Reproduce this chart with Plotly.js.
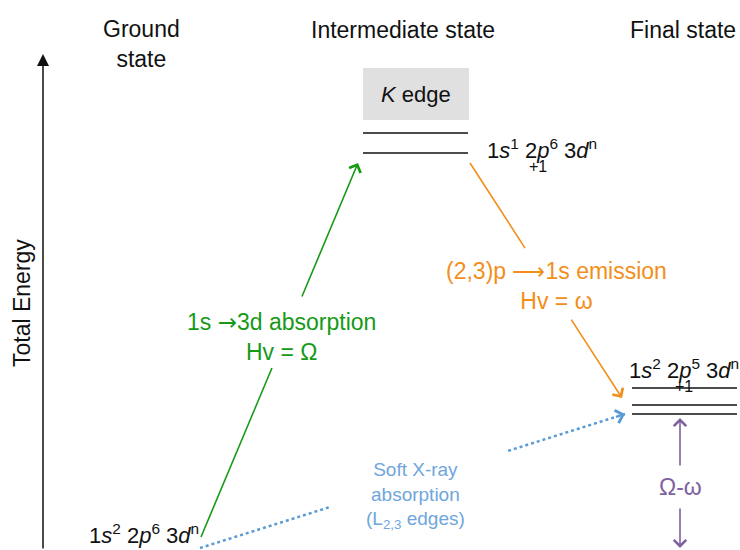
<!DOCTYPE html>
<html>
<head>
<meta charset="utf-8">
<script src="https://cdn.plot.ly/plotly-3.0.1.min.js"></script>
<style>html,body{margin:0;padding:0;background:#fff;}#chart{width:740px;height:550px;}</style>
</head>
<body>
<div id="chart"></div>
<script>
// ---- data: states, energy levels, transitions ----
const stateNames = ['Ground<br>state', 'Intermediate state', 'Final state'];
const stateColumnX = [141, 403, 683];
const stateTitleE = [506, 520, 520];

const intermediateLevelsE = [417, 397];
const finalLevelsE = [162, 145, 136];
const intermediateSpan = [363, 468];
const finalSpan = [632, 737];

const configLabels = [
  '1<i>s</i><sup>2</sup> 2<i>p</i><sup>6</sup> 3<i>d</i><sup>n</sup>',
  '1<i>s</i><sup>1</sup> 2<i>p</i><sup>6</sup> 3<i>d</i><sup>n</sup>',
  '1<i>s</i><sup>2</sup> 2<i>p</i><sup>5</sup> 3<i>d</i><sup>n</sup>'
];
const configX = [87, 485, 627];
const configE = [16, 401, 181];
const subLabelX = [538, 684];
const subLabelE = [384, 164];

const kEdgeSpanE = [430, 482];

const transitionNames = ['absorption', 'emission', 'soft'];
const transitionFrom = [[201, 13], [470, 387], [200, 2]];
const transitionTo = [[358, 387], [622, 152], [625, 136]];
const transitionGap = [[0.452, 0.639], [0.362, 0.66], [0.306, 0.725]];
const transitionColors = ['#169a16', '#f28e1a', '#5b9bd5'];
const transitionLabels = [
  '1s <span style="font-family:DejaVu Sans">→</span>3d absorption<br>Hv = Ω',
  '(2,3)p ⟶1s emission<br>Hv = ω',
  'Soft X-ray<br>absorption<br>(L<sub>2,3</sub> edges)'
];
const labelPos = [[281, 213], [556, 264], [415, 55]];

const lossX = 680;
const lossE = [132, 2];
const lossGapE = [83, 43];
const lossLabel = 'Ω-ω';
const lossLabelE = 63;

// ---- build ----
const FONT = 'Liberation Sans, Arial, sans-serif';
const traces = [];
const annotations = [];
const shapes = [];

// energy levels
intermediateLevelsE.forEach(e => shapes.push({type:'line', xref:'x', yref:'y', x0:intermediateSpan[0], x1:intermediateSpan[1], y0:e, y1:e, line:{color:'#111', width:1.6}}));
finalLevelsE.forEach(e => shapes.push({type:'line', xref:'x', yref:'y', x0:finalSpan[0], x1:finalSpan[1], y0:e, y1:e, line:{color:'#111', width:1.6}}));
// K edge box
shapes.push({type:'rect', xref:'x', yref:'y', x0:intermediateSpan[0], x1:intermediateSpan[1]+1, y0:kEdgeSpanE[0], y1:kEdgeSpanE[1], fillcolor:'#e0e0e0', line:{width:0}, layer:'below'});
annotations.push({x:(intermediateSpan[0]+intermediateSpan[1])/2, y:(kEdgeSpanE[0]+kEdgeSpanE[1])/2, xref:'x', yref:'y', text:'<i>K</i> edge', showarrow:false, font:{family:FONT, size:22, color:'#111'}});

// energy axis arrow
annotations.push({x:43, y:496, ax:43, ay:0, xref:'x', yref:'y', axref:'x', ayref:'y', text:'', showarrow:true, arrowhead:2, arrowsize:1.6, arrowwidth:1.5, arrowcolor:'#111'});
annotations.push({x:22, y:247, xref:'x', yref:'y', text:'Total Energy', textangle:-90, showarrow:false, font:{family:FONT, size:23, color:'#111'}});

// state titles
stateNames.forEach((s, i) => annotations.push({x:stateColumnX[i], y:stateTitleE[i], xref:'x', yref:'y', text:s, showarrow:false, font:{family:FONT, size:23, color:'#111'}}));

// configurations
configLabels.forEach((s, i) => annotations.push({x:configX[i], y:configE[i], xref:'x', yref:'y', xanchor:'left', text:s, showarrow:false, font:{family:FONT, size:22, color:'#111'}}));
subLabelX.forEach((x, i) => annotations.push({x:x, y:subLabelE[i], xref:'x', yref:'y', text:'+1', showarrow:false, font:{family:FONT, size:16, color:'#111'}}));

// transitions
function pt(a, b, t){ return [a[0] + (b[0]-a[0])*t, a[1] + (b[1]-a[1])*t]; }
transitionNames.forEach((n, i) => {
  const a = transitionFrom[i], b = transitionTo[i], g = transitionGap[i];
  const p0 = pt(a, b, g[0]), p1 = pt(a, b, g[1]);
  const dotted = n === 'soft';
  const xs = dotted ? [a[0], p0[0], null, p1[0], b[0]] : [a[0], p0[0]];
  const ys = dotted ? [a[1], p0[1], null, p1[1], b[1]] : [a[1], p0[1]];
  traces.push({x:xs, y:ys, mode:'lines', hoverinfo:'skip', line:{color:transitionColors[i], width:dotted?2.5:1.6, dash:dotted?'dot':'solid'}});
  const tail = dotted ? pt(a, b, 0.975) : p1;
  annotations.push({x:b[0], y:b[1], ax:tail[0], ay:tail[1], xref:'x', yref:'y', axref:'x', ayref:'y', text:'', showarrow:true, arrowhead:4, arrowsize:dotted?1.3:1.5, arrowwidth:dotted?2:1.6, arrowcolor:transitionColors[i]});
  annotations.push({x:labelPos[i][0], y:labelPos[i][1], xref:'x', yref:'y', text:transitionLabels[i], showarrow:false, font:{family:FONT, size:dotted?19:23, color:dotted?'#6fa6dc':transitionColors[i]}});
});

// energy loss double arrow
const purple = '#7e62a0';
annotations.push({x:lossX, y:lossE[0], ax:lossX, ay:lossGapE[0], xref:'x', yref:'y', axref:'x', ayref:'y', text:'', showarrow:true, arrowhead:4, arrowsize:1.5, arrowwidth:1.6, arrowcolor:purple});
annotations.push({x:lossX, y:lossE[1], ax:lossX, ay:lossGapE[1], xref:'x', yref:'y', axref:'x', ayref:'y', text:'', showarrow:true, arrowhead:4, arrowsize:1.5, arrowwidth:1.6, arrowcolor:purple});
annotations.push({x:lossX, y:lossLabelE, xref:'x', yref:'y', text:lossLabel, showarrow:false, font:{family:FONT, size:23, color:purple}});

const layout = {
  width:740, height:550,
  margin:{l:0, r:0, t:0, b:0},
  paper_bgcolor:'#fff', plot_bgcolor:'#fff',
  showlegend:false,
  xaxis:{range:[0,740], visible:false, fixedrange:true},
  yaxis:{range:[0,550], visible:false, fixedrange:true},
  shapes:shapes,
  annotations:annotations
};
Plotly.newPlot('chart', traces, layout, {displayModeBar:false, staticPlot:true});
</script>
</body>
</html>
